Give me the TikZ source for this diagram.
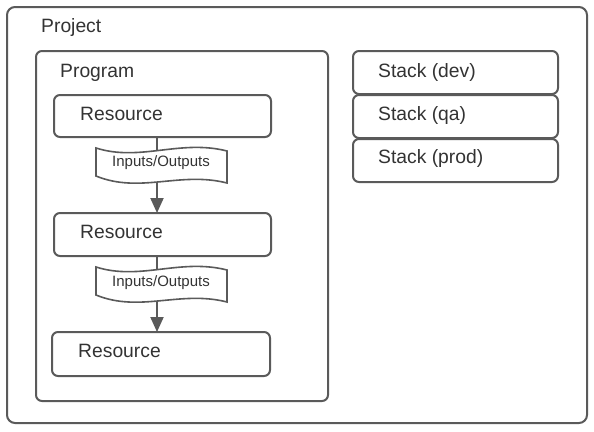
\documentclass[tikz,border=0pt]{standalone}
\usepackage{fontspec}
\setmainfont{Liberation Sans}
\usetikzlibrary{arrows.meta}
\definecolor{edge}{HTML}{5A5A5A}
\definecolor{txt}{HTML}{333333}
\begin{document}
\begin{tikzpicture}[x=1pt,y=-1pt,
  box/.style={draw=edge,line width=2pt,rounded corners=6pt,fill=white},
  lbl/.style={anchor=base west,inner sep=0pt,font=\fontsize{19.3}{21}\selectfont,text=txt},
  iolbl/.style={inner sep=0pt,font=\fontsize{15}{17}\selectfont,text=txt},
  flow/.style={draw=edge,line width=2pt,-{Triangle[length=15pt,width=13pt]}},
  tapeline/.style={draw=edge,line width=1.6pt,fill=white}]
\useasboundingbox (0,0) rectangle (594,431);
\fill[white] (0,0) rectangle (594,431);
% project
\draw[box,rounded corners=8pt] (7,7) rectangle (587,423);
\node[lbl] (proj) at (41,32) {Project};
% program
\draw[box] (36,51) rectangle (328,401);
\node[lbl] (prog) at (60,77) {Program};
% resources
\draw[box] (54,95) rectangle (271,137);
\coordinate (r1b) at (157,137);
\node[lbl] (res1) at (80,120) {Resource};
\draw[box] (54,213) rectangle (271,256);
\coordinate (r2t) at (157,213);
\coordinate (r2b) at (157,256);
\node[lbl] (res2) at (80,238) {Resource};
\draw[box] (52,332) rectangle (270,376);
\coordinate (r3t) at (157,332);
\node[lbl] (res3) at (78,357) {Resource};
% arrows
\draw[flow] (r1b) -- (r2t);
\draw[flow] (r2b) -- (r3t);
% tapes
\foreach \y/\n in {148/io1,267/io2}{
  \draw[tapeline] (96,\y) .. controls (140,\y+14) and (180,\y-9) .. (227,\y+3)
    -- (227,\y+35) .. controls (180,\y+23) and (140,\y+46) .. (96,\y+28) -- cycle;
}
\node[iolbl,anchor=base] (io1) at (161,166) {Inputs/Outputs};
\node[iolbl,anchor=base] (io2) at (161,286) {Inputs/Outputs};
% stacks
\draw[box] (353,51) rectangle (558,94);
\node[lbl] (s1) at (378,77) {Stack (dev)};
\draw[box] (353,95) rectangle (558,138);
\node[lbl] (s2) at (378,120) {Stack (qa)};
\draw[box] (353,139) rectangle (558,182);
\node[lbl] (s3) at (378,163) {Stack (prod)};
\end{tikzpicture}
\end{document}
